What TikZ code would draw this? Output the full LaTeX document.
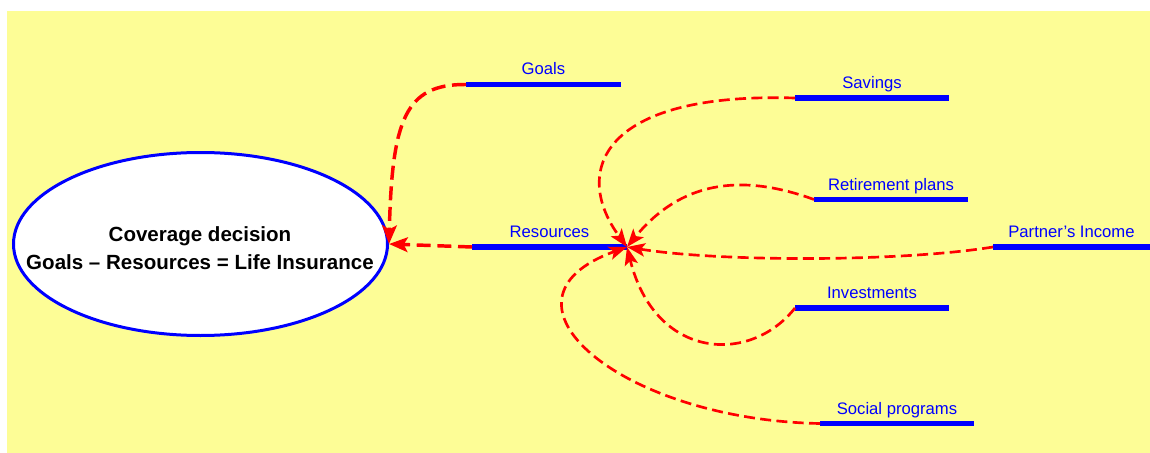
\documentclass[tikz,border=0pt]{standalone}
\usepackage{fontspec}
\setmainfont{Liberation Sans}
\usetikzlibrary{arrows.meta,calc,shapes.geometric}
\definecolor{paper}{RGB}{253,253,150}
\definecolor{barblue}{RGB}{0,0,255}
\definecolor{linkred}{RGB}{255,0,0}
\begin{document}
\begin{tikzpicture}[x=0.75pt,y=-0.75pt,
  bar/.style={draw=barblue, line width=4.1pt},
  lbl/.style={text=barblue, font=\fontsize{12.5}{15}\selectfont, anchor=base, inner sep=0pt},
  decision/.style={ellipse, draw=barblue, fill=white, line width=2.25pt,
    minimum width=280.5pt, minimum height=137.25pt, inner sep=0pt},
  decisiontext/.style={align=center, inner sep=0pt, font=\bfseries\fontsize{15.4}{21}\selectfont},
  heavylink/.style={draw=linkred, line width=2.6pt, dash pattern=on 10.5pt off 5pt,
    -{Stealth[length=14pt,width=11pt,inset=3pt]}},
  lightlink/.style={draw=linkred, line width=2pt, dash pattern=on 8.25pt off 4pt,
    -{Stealth[length=13.5pt,width=10pt,inset=3pt]}},
]
% canvas
\useasboundingbox (0,0) rectangle (1150,453);
\fill[paper] (7,11) rectangle (1150,453);

% central decision ellipse and its caption
\node[decision] (dec) at (200.5,244) {};
\node[decisiontext] (decT) at (200,248) {Coverage decision\\Goals -- Resources = Life Insurance};

% topic bars: left and right ends
\coordinate (goalsL) at (466,84.5);   \coordinate (goalsR) at (621,84.5);
\coordinate (savL)   at (795,98);     \coordinate (savR)   at (949,98);
\coordinate (retL)   at (814,199.5);  \coordinate (retR)   at (968,199.5);
\coordinate (resL)   at (472,247);    \coordinate (hub)    at (627,247);
\coordinate (partL)  at (993,247);    \coordinate (partR)  at (1150,247);
\coordinate (invL)   at (795,308);    \coordinate (invR)   at (949,308);
\coordinate (socL)   at (820,423.5);  \coordinate (socR)   at (974,423.5);

\draw[bar] (goalsL) -- (goalsR);
\draw[bar] (savL) -- (savR);
\draw[bar] (retL) -- (retR);
\draw[bar] (resL) -- (hub);
\draw[bar] (partL) -- (partR);
\draw[bar] (invL) -- (invR);
\draw[bar] (socL) -- (socR);

% bar captions
\node[lbl] (goalsT) at ($(goalsL)!0.5!(goalsR)+(0,-9.5)$) {Goals};
\node[lbl] (savT)   at ($(savL)!0.5!(savR)+(0,-9.5)$) {Savings};
\node[lbl] (retT)   at ($(retL)!0.5!(retR)+(0,-9.5)$) {Retirement plans};
\node[lbl] (resT)   at ($(resL)!0.5!(hub)+(0,-9.5)$) {Resources};
\node[lbl] (partT)  at ($(partL)!0.5!(partR)+(0,-9.5)$) {Partner’s Income};
\node[lbl] (invT)   at ($(invL)!0.5!(invR)+(0,-9.5)$) {Investments};
\node[lbl] (socT)   at ($(socL)!0.5!(socR)+(0,-9.5)$) {Social programs};

% links into the decision
\draw[heavylink] (goalsL) .. controls (405,84) and (392,120) .. (dec.east);
\draw[heavylink] (resL) -- (dec.east);

% links into the resources hub
\draw[lightlink] (savL) .. controls (600,92) and (572,172) .. (hub);
\draw[lightlink] (retL) .. controls (760,180) and (690,170) .. (hub);
\draw[lightlink] (partL) .. controls (900,262) and (720,262) .. (hub);
\draw[lightlink] (invL) .. controls (750,365) and (655,360) .. (hub);
\draw[lightlink] (socL) .. controls (620,420) and (480,300) .. (hub);
\end{tikzpicture}
\end{document}
